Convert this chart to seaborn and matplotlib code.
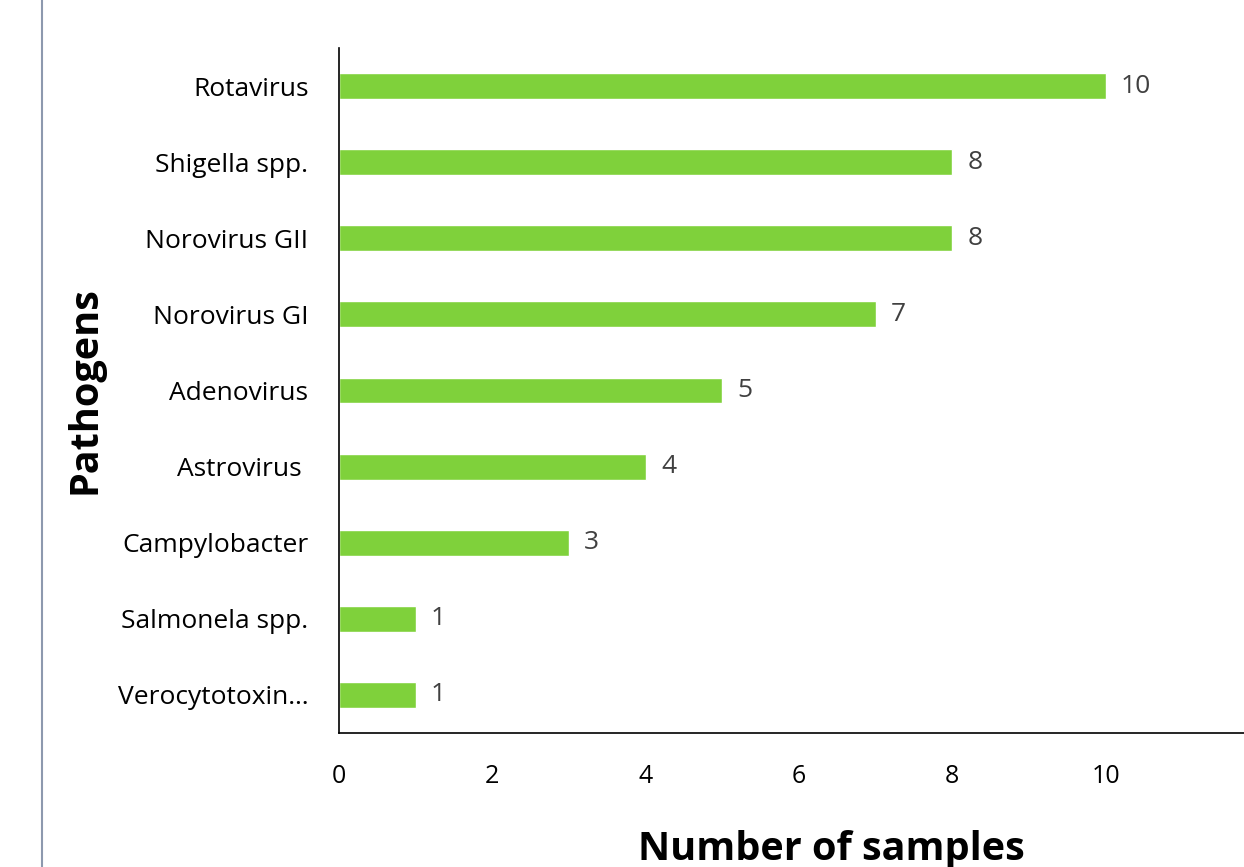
import matplotlib
matplotlib.use("Agg")
import matplotlib.pyplot as plt
import matplotlib.lines as mlines
import seaborn as sns
import pandas as pd

# values
pathogens = ["Rotavirus", "Shigella spp.", "Norovirus GII", "Norovirus GI",
             "Adenovirus", "Astrovirus ", "Campylobacter", "Salmonela spp.",
             "Verocytotoxin\u2026"]
samples = [10, 8, 8, 7, 5, 4, 3, 1, 1]

bar_color = "#7FD13B"

sns.set_theme(style="white")
plt.rcParams["font.family"] = ["Open Sans", "DejaVu Sans"]

df = pd.DataFrame({"Pathogens": pathogens, "Number of samples": samples})

fig = plt.figure(figsize=(12.44, 8.67), dpi=100)
W, H = 1244, 867
# axes placed so that it runs off the right edge like the cropped slide
ax = fig.add_axes([339 / W, (H - 733) / H, (1259 - 339) / W, (733 - 48) / H])

sns.barplot(data=df, y="Pathogens", x="Number of samples", orient="h",
            color=bar_color, saturation=1, width=0.34, ax=ax)

ax.bar_label(ax.containers[0], padding=11, fontsize=19, color="#404040")

ax.set_xlim(0, 12)
ax.set_ylim(8.5, -0.5)
ax.set_xticks([0, 2, 4, 6, 8, 10])
ax.tick_params(axis="x", length=0, pad=22, labelsize=18, labelcolor="black")
ax.tick_params(axis="y", length=0, pad=22, labelsize=19, labelcolor="black")

for side in ["top", "right"]:
    ax.spines[side].set_visible(False)
for side in ["left", "bottom"]:
    ax.spines[side].set_color("black")
    ax.spines[side].set_linewidth(1.2)

ax.set_xlabel("Number of samples", fontsize=28.5, fontweight="bold", color="black")
ax.set_ylabel("Pathogens", fontsize=28.5, fontweight="bold", color="black")
ax.xaxis.set_label_coords(0.535, -0.17)
ax.xaxis.label.set_va("center")
ax.yaxis.set_label_coords(-0.276, 0.5)
ax.yaxis.label.set_va("center")

# slide border on the left
fig.add_artist(mlines.Line2D([42 / W, 42 / W], [0, 1], color="#8D99AE", lw=1.5))

fig.savefig("out.png", dpi=100)
